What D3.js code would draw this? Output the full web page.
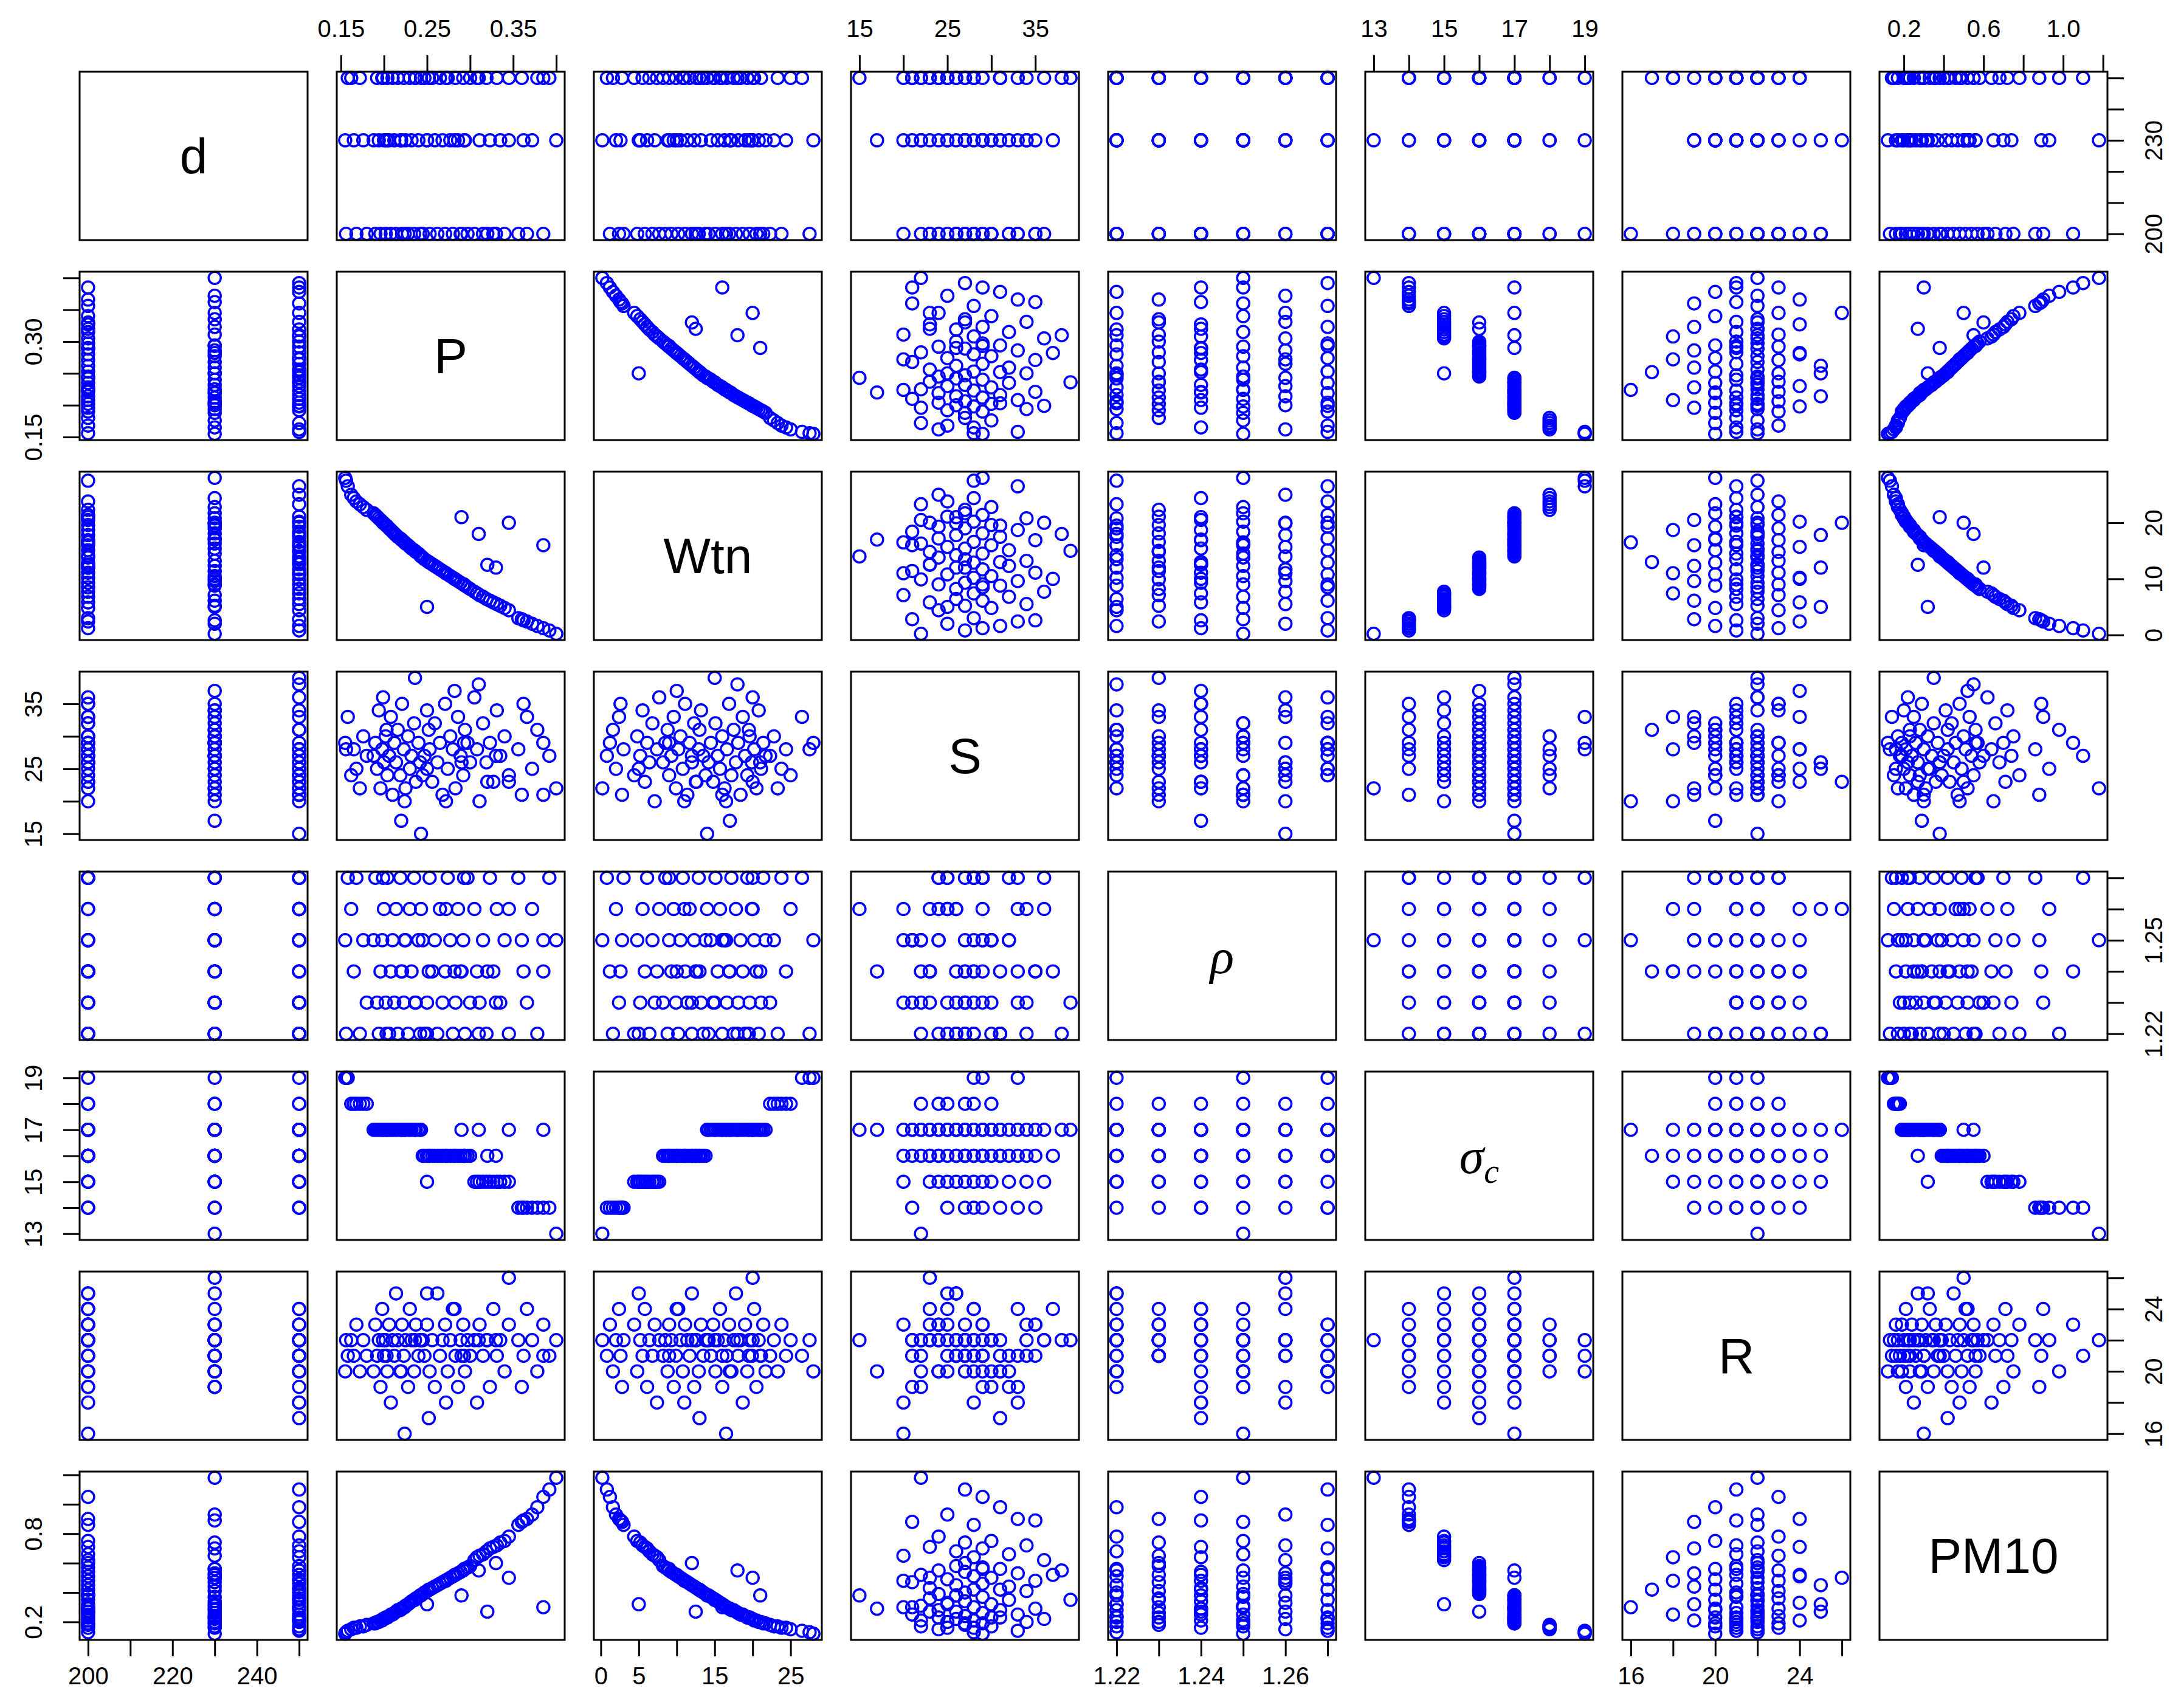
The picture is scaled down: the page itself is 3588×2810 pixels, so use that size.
<!DOCTYPE html>
<html>
<head>
<meta charset="utf-8">
<script src="https://cdn.jsdelivr.net/npm/d3@7"></script>
<style>
body { margin: 0; background: #fff; }
text { font-family: "Liberation Sans", Arial, sans-serif; }
</style>
</head>
<body>
<script>
// variables (diagonal labels)
var varNames = ["d", "P", "Wtn", "S", "rho", "sigma", "R", "PM10"];

var dVals = [230,
	250,200,250,230,200,250,200,230,
	250,200,230,250,200,230,250,200,230,250,200,230,
	250,200,230,250,200,230,250,200,230,250,200,230,250,200,230,250,200,230,250,200,230,250,200,230,250,
	200,230,250,200,230,250,200,230,250,200,230,250,200,230,250,200,230,250,200,230,250,200,230,250,200,230,250,200,230,250,200,230,250,230,250,
	200,230,250,200,230,250,
	250,200,230,
	250,200];
var pVals = [0.400,
	0.392,0.385,0.378,0.372,0.366,0.360,0.356,0.362,
	0.345,0.340,0.335,0.331,0.327,0.323,0.319,0.315,0.311,0.308,0.305,0.250,
	0.300,0.297,0.294,0.292,0.289,0.286,0.283,0.280,0.277,0.274,0.271,0.268,0.265,0.262,0.259,0.256,0.253,0.250,0.247,0.245,0.282,0.272,0.330,0.293,0.252,
	0.242,0.240,0.237,0.235,0.232,0.230,0.228,0.225,0.223,0.221,0.219,0.216,0.214,0.212,0.210,0.208,0.206,0.204,0.202,0.200,0.198,0.196,0.194,0.192,0.190,0.188,0.310,0.290,0.345,0.236,0.224,0.203,0.243,0.220,0.199,
	0.180,0.176,0.172,0.168,0.165,0.162,
	0.158,0.156,0.155,
	0.385,0.320];
var wtnVals = [0.2,
	0.8,1.2,1.6,2.0,2.4,2.8,3.0,2.6,
	4.4,4.8,5.2,5.5,5.8,6.1,6.4,6.8,7.1,7.4,7.7,5.0,
	8.2,8.5,8.8,9.0,9.3,9.6,9.9,10.2,10.5,10.8,11.1,11.4,11.7,12.0,12.3,12.6,12.9,13.2,13.5,13.8,10.0,11.0,12.0,9.0,13.0,
	14.2,14.5,14.8,15.1,15.4,15.7,16.0,16.3,16.6,16.9,17.2,17.5,17.8,18.1,18.4,18.7,19.0,19.3,19.6,19.9,20.2,20.5,20.8,21.1,21.4,21.7,18.0,21.0,20.0,15.0,16.5,19.5,14.0,17.0,20.0,
	22.3,22.8,23.3,23.8,24.4,25.0,
	26.5,27.5,28.0,
	16.0,12.5];
var sVals = [22,
	27,29,31,25,33,21,28,35,
	24,30,27,34,23,29,26,32,20,28,36,25,
	26,29,31,24,27,33,22,28,30,25,35,21,29,26,32,23,28,34,27,24,37,20,27,29,31,
	26,29,23,32,27,25,30,22,28,35,24,31,26,29,21,33,27,24,30,26,28,22,34,25,29,27,38,26,23,39,20,31,15,17,36,
	27,30,22,25,28,24,
	33,28,29,
	21,23];
var rhoVals = [1.25,
	1.27,1.24,1.22,1.26,1.23,1.25,1.27,1.24,
	1.22,1.25,1.23,1.26,1.24,1.27,1.22,1.25,1.23,1.24,1.26,1.22,
	1.23,1.27,1.22,1.25,1.24,1.26,1.23,1.22,1.25,1.27,1.24,1.23,1.26,1.22,1.25,1.24,1.27,1.23,1.22,1.25,1.24,1.26,1.23,1.27,1.24,
	1.22,1.25,1.23,1.27,1.24,1.26,1.22,1.25,1.23,1.24,1.27,1.22,1.26,1.23,1.25,1.24,1.22,1.27,1.23,1.26,1.25,1.24,1.22,1.23,1.27,1.25,1.22,1.24,1.26,1.23,1.25,1.22,1.26,1.24,1.27,
	1.23,1.25,1.22,1.27,1.24,1.26,
	1.27,1.22,1.25,
	1.25,1.24];
var sigmaVals = [13,
	14,14,14,14,14,14,14,14,
	15,15,15,15,15,15,15,15,15,15,15,15,
	16,16,16,16,16,16,16,16,16,16,16,16,16,16,16,16,16,16,16,16,16,16,16,16,16,
	17,17,17,17,17,17,17,17,17,17,17,17,17,17,17,17,17,17,17,17,17,17,17,17,17,17,17,17,17,17,17,17,17,17,17,
	18,18,18,18,18,18,
	19,19,19,
	17,16];
var rVals = [22,
	21,23,20,22,24,19,22,21,
	23,20,22,21,24,19,22,21,23,18,22,25,
	21,22,20,23,22,19,21,24,22,20,23,22,21,25,19,22,20,23,21,22,24,18,22,21,17,
	22,21,23,20,22,24,19,22,21,23,20,22,25,21,22,18,23,20,22,21,24,19,22,21,23,20,22,21,26,22,16,21,22,20,22,
	21,22,20,23,21,22,
	21,22,20,
	21,22];
var pm10Vals = [1.18,
	1.10,1.05,0.98,0.93,0.90,0.88,0.86,0.89,
	0.78,0.75,0.74,0.72,0.71,0.70,0.68,0.66,0.65,0.64,0.62,0.32,
	0.58,0.57,0.56,0.55,0.54,0.53,0.52,0.51,0.50,0.49,0.48,0.47,0.46,0.45,0.44,0.43,0.42,0.41,0.40,0.39,0.52,0.48,0.60,0.56,0.42,
	0.38,0.37,0.36,0.35,0.34,0.33,0.32,0.31,0.30,0.29,0.28,0.28,0.27,0.26,0.25,0.25,0.24,0.23,0.23,0.22,0.21,0.21,0.20,0.20,0.19,0.19,0.55,0.38,0.50,0.35,0.30,0.23,0.38,0.29,0.22,
	0.18,0.17,0.17,0.16,0.16,0.15,
	0.14,0.13,0.12,
	0.30,0.27];

var columns = [dVals, pVals, wtnVals, sVals, rhoVals, sigmaVals, rVals, pm10Vals];

// axis ticks and the labels R printed
var tickVals = [
	[200,210,220,230,240,250],
	[0.15,0.20,0.25,0.30,0.35,0.40],
	[0,5,10,15,20,25],
	[15,20,25,30,35],
	[1.22,1.23,1.24,1.25,1.26,1.27],
	[13,14,15,16,17,18,19],
	[16,18,20,22,24,26],
	[0.2,0.4,0.6,0.8,1.0,1.2]
];
var xTickLabels = [
	["200","220","240"],
	["0.15","0.25","0.35"],
	["0","5","15","25"],
	["15","25","35"],
	["1.22","1.24","1.26"],
	["13","15","17","19"],
	["16","20","24"],
	["0.2","0.6","1.0"]
];
var yTickLabels = [
	["200","230"],
	["0.15","0.30"],
	["0","10","20"],
	["15","25","35"],
	["1.22","1.25"],
	["13","15","17","19"],
	["16","20","24"],
	["0.2","0.8"]
];
var yTickVals = [
	[200,210,220,230,240,250],
	[0.15,0.20,0.25,0.30,0.35,0.40],
	[0,10,20],
	[15,20,25,30,35],
	[1.22,1.23,1.24,1.25,1.26,1.27],
	[13,14,15,16,17,18,19],
	[16,18,20,22,24,26],
	[0.2,0.4,0.6,0.8,1.0,1.2]
];

var svgWidth = 3588;
var svgHeight = 2810;
var panelX0 = 131, panelY0 = 118;
var stepX = 423, stepY = 329;
var panelW = 375, panelH = 277;
var n = varNames.length;

var svg = d3.select("body").append("svg")
	.attr("width", svgWidth)
	.attr("height", svgHeight);

// scales with R style 4% padding
var xs = [], ys = [];
for (var i = 0; i < n; i++) {
	var ext = d3.extent(columns[i]);
	var pad = (ext[1] - ext[0]) * 0.04;
	xs.push(d3.scaleLinear().domain([ext[0] - pad, ext[1] + pad]).range([0, panelW]));
	ys.push(d3.scaleLinear().domain([ext[0] - pad, ext[1] + pad]).range([panelH, 0]));
}

var rows = d3.range(columns[0].length);

function pickLabel(labs) {
	return function(v) {
		var hit = labs.filter(function(l) { return Math.abs(+l - v) < 1e-9; });
		return hit.length ? hit[0] : "";
	};
}

for (var r = 0; r < n; r++) {
	for (var c = 0; c < n; c++) {
		var g = svg.append("g")
			.attr("transform", "translate(" + (panelX0 + c * stepX) + "," + (panelY0 + r * stepY) + ")");

		if (r == c) {
			var name = varNames[r];
			var t = g.append("text")
				.attr("x", panelW / 2)
				.attr("y", panelH / 2 + 28)
				.attr("text-anchor", "middle")
				.style("font-size", "82px");
			if (name == "rho") {
				t.style("font-family", "Liberation Serif").style("font-style", "italic").text("\u03c1");
			} else if (name == "sigma") {
				t.style("font-family", "Liberation Serif").style("font-style", "italic").text("\u03c3");
				t.append("tspan").attr("dy", 16).style("font-size", "56px").text("c");
			} else {
				t.text(name);
			}
		} else {
			g.selectAll("circle")
				.data(rows)
				.enter().append("circle")
				.attr("cx", function(k) { return xs[c](columns[c][k]); })
				.attr("cy", function(k) { return ys[r](columns[r][k]); })
				.attr("r", 10)
				.style("fill", "none")
				.style("stroke", "#0000ff")
				.style("stroke-width", 3.5);
		}

		g.append("rect")
			.attr("width", panelW)
			.attr("height", panelH)
			.style("fill", "none")
			.style("stroke", "black")
			.style("stroke-width", 3);

		// x axes: top for odd columns on first row, bottom for even columns on last row
		if (r == 0 && c % 2 == 1 || r == n - 1 && c % 2 == 0) {
			var atTop = (r == 0);
			var ax = (atTop ? d3.axisTop(xs[c]) : d3.axisBottom(xs[c]))
				.tickValues(tickVals[c])
				.tickSize(27)
				.tickPadding(atTop ? 30 : 18);
			var axg = g.append("g")
				.attr("transform", "translate(0," + (atTop ? 0 : panelH) + ")")
				.call(ax);
			axg.selectAll("text")
				.text(pickLabel(xTickLabels[c]))
				.style("font-size", "40px")
				.style("font-family", "Liberation Sans");
			axg.select(".domain").remove();
			axg.selectAll("line").style("stroke-width", 3);
		}

		// y axes: left for odd rows on first column, right for even rows on last column
		if (c == 0 && r % 2 == 1 || c == n - 1 && r % 2 == 0) {
			var atLeft = (c == 0);
			var ay = (atLeft ? d3.axisLeft(ys[r]) : d3.axisRight(ys[r]))
				.tickValues(yTickVals[r])
				.tickSize(27);
			var ayg = g.append("g")
				.attr("transform", "translate(" + (atLeft ? 0 : panelW) + ",0)")
				.call(ay);
			ayg.select(".domain").remove();
			ayg.selectAll("line").style("stroke-width", 3);
			ayg.selectAll("text")
				.text(pickLabel(yTickLabels[r]))
				.attr("x", null)
				.attr("text-anchor", "middle")
				.attr("transform", atLeft ? "translate(-62,0) rotate(-90)" : "translate(62,0) rotate(-90)")
				.attr("dy", atLeft ? "0" : "0.7em")
				.style("font-size", "40px")
				.style("font-family", "Liberation Sans");
		}
	}
}
</script>
</body>
</html>
